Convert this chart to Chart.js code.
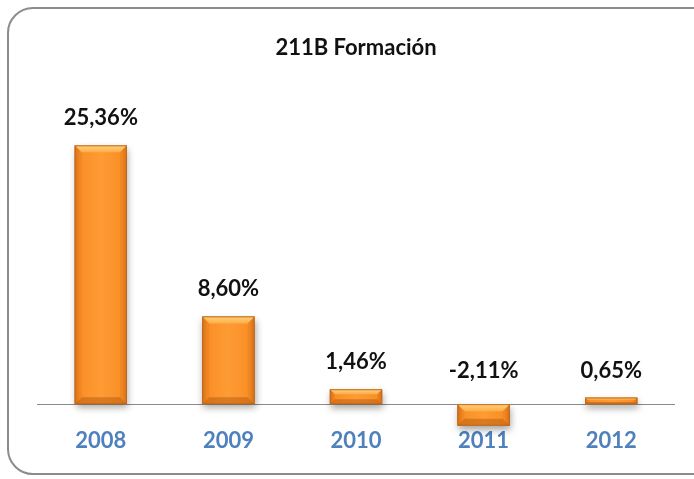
<!DOCTYPE html>
<html>
<head>
<meta charset="utf-8">
<script src="https://cdn.jsdelivr.net/npm/chart.js@4"></script>
<style>
  html, body { margin: 0; padding: 0; background: #fff; overflow: hidden; }
  #wrap { position: relative; width: 694px; height: 479px; }
  #frame {
    position: absolute; left: 7px; top: 7px; width: 720px; height: 468px;
    border: 2px solid #8c8c8c; border-radius: 26px; box-sizing: border-box;
  }
  canvas { position: absolute; left: 0; top: 0; }
</style>
</head>
<body>
<div id="wrap">
  <div id="frame"></div>
  <canvas id="chart" width="694" height="479"></canvas>
</div>
<script>
  // Data
  const years = ['2008', '2009', '2010', '2011', '2012'];
  const growth = [25.36, 8.60, 1.46, -2.11, 0.65];

  const fmt = v => v.toFixed(2).replace('.', ',') + '%';

  // zero line, bevelled bars and value labels
  const extras = {
    id: 'extras',
    beforeDatasetsDraw(chart) {
      const { ctx, chartArea, scales } = chart;
      const y0 = scales.y.getPixelForValue(0);
      ctx.save();
      ctx.strokeStyle = '#8a8a8a';
      ctx.lineWidth = 1;
      ctx.beginPath();
      ctx.moveTo(chartArea.left, Math.round(y0) + 0.5);
      ctx.lineTo(chartArea.right, Math.round(y0) + 0.5);
      ctx.stroke();
      ctx.restore();
    },
    afterDatasetsDraw(chart) {
      const { ctx, scales } = chart;
      const meta = chart.getDatasetMeta(0);
      const y0 = scales.y.getPixelForValue(0);

      meta.data.forEach(bar => {
        const l = bar.x - bar.width / 2, r = bar.x + bar.width / 2;
        const t = Math.min(bar.y, bar.base), b = Math.max(bar.y, bar.base);
        const h = b - t, w = r - l;
        const bv = Math.min(7, h / 3);

        // shadow + base fill
        ctx.save();
        ctx.shadowColor = 'rgba(0,0,0,0.35)';
        ctx.shadowBlur = 7;
        ctx.shadowOffsetX = 1;
        ctx.shadowOffsetY = 4;
        const g = ctx.createLinearGradient(l, 0, r, 0);
        g.addColorStop(0, '#DA7419');
        g.addColorStop(0.1, '#F98F26');
        g.addColorStop(0.5, '#FE9B34');
        g.addColorStop(0.9, '#F98F26');
        g.addColorStop(1, '#DA7419');
        ctx.fillStyle = g;
        ctx.fillRect(l, t, w, h);
        ctx.restore();

        ctx.save();
        // top bevel
        const gt = ctx.createLinearGradient(0, t, 0, t + bv);
        gt.addColorStop(0, '#FFD27E');
        gt.addColorStop(1, '#FFAE45');
        ctx.fillStyle = gt;
        ctx.beginPath();
        ctx.moveTo(l, t);
        ctx.lineTo(r, t);
        ctx.lineTo(r - bv, t + bv);
        ctx.lineTo(l + bv, t + bv);
        ctx.closePath();
        ctx.fill();
        // bottom bevel
        ctx.fillStyle = 'rgba(175,85,10,0.45)';
        ctx.beginPath();
        ctx.moveTo(l, b);
        ctx.lineTo(r, b);
        ctx.lineTo(r - bv, b - bv);
        ctx.lineTo(l + bv, b - bv);
        ctx.closePath();
        ctx.fill();
        // side bevels
        ctx.fillStyle = 'rgba(200,100,15,0.18)';
        ctx.beginPath();
        ctx.moveTo(l, t);
        ctx.lineTo(l + bv, t + bv);
        ctx.lineTo(l + bv, b - bv);
        ctx.lineTo(l, b);
        ctx.closePath();
        ctx.fill();
        ctx.beginPath();
        ctx.moveTo(r, t);
        ctx.lineTo(r - bv, t + bv);
        ctx.lineTo(r - bv, b - bv);
        ctx.lineTo(r, b);
        ctx.closePath();
        ctx.fill();
        // outline
        ctx.strokeStyle = '#BE6A22';
        ctx.lineWidth = 1;
        ctx.strokeRect(l + 0.5, t + 0.5, w - 1, h - 1);
        ctx.restore();
      });

      ctx.save();
      ctx.font = 'bold 22px Lato';
      ctx.fillStyle = '#111';
      ctx.textAlign = 'center';
      ctx.textBaseline = 'middle';
      meta.data.forEach((bar, i) => {
        const top = Math.min(bar.y, y0);
        const off = growth[i] < 0 ? 33 : 27;
        ctx.fillText(fmt(growth[i]), bar.x, top - off);
      });
      ctx.restore();
    }
  };

  new Chart(document.getElementById('chart'), {
    type: 'bar',
    data: {
      labels: years,
      datasets: [{
        data: growth,
        backgroundColor: '#F7922A',
        borderWidth: 0,
        barPercentage: 0.82,
        categoryPercentage: 0.5
      }]
    },
    options: {
      responsive: false,
      animation: false,
      layout: { padding: { left: 37, right: 19, top: 0, bottom: 24 } },
      plugins: {
        legend: { display: false },
        tooltip: { enabled: false },
        title: {
          display: true,
          text: '211B Formación',
          color: '#111',
          font: { family: 'Lato', size: 22, weight: 'bold' },
          padding: { top: 35, bottom: 57 }
        }
      },
      scales: {
        x: {
          grid: { display: false, drawTicks: false },
          border: { display: false },
          ticks: {
            padding: 1,
            color: '#4F81BD',
            font: { family: 'Lato', size: 22, weight: 'bold' }
          }
        },
        y: {
          display: false,
          min: -2.2,
          max: 28
        }
      }
    },
    plugins: [extras]
  });
</script>
</body>
</html>
